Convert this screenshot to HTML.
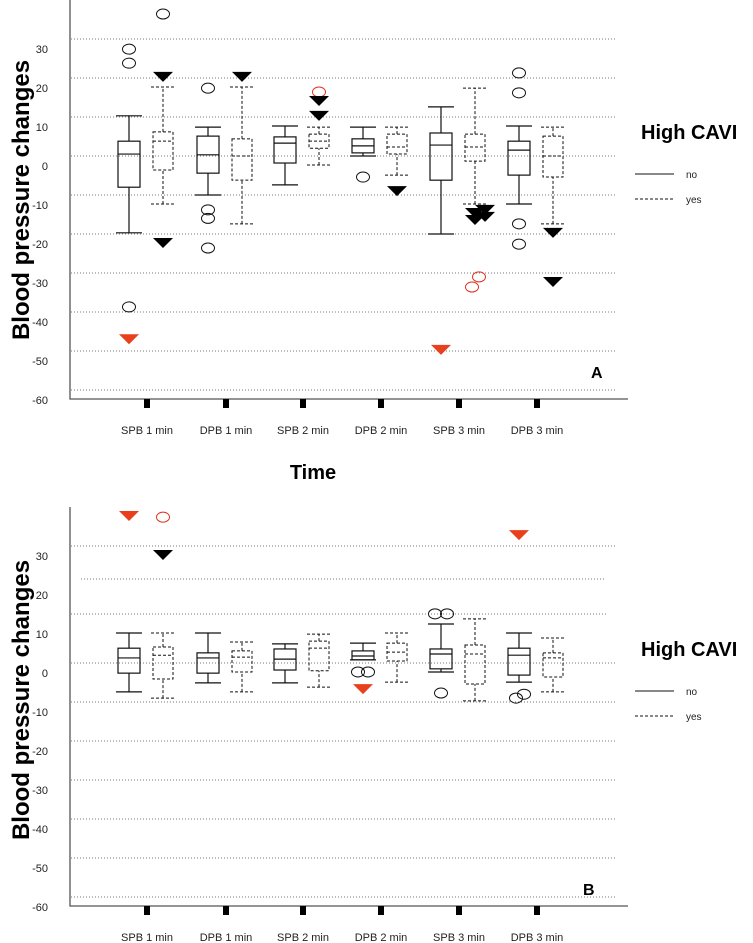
<!DOCTYPE html>
<html><head><meta charset="utf-8"><style>
html,body{margin:0;padding:0;background:#fff;}
svg{display:block;font-family:"Liberation Sans",Arial,sans-serif;}
</style></head><body>
<svg id="chart" width="753" height="943" viewBox="0 0 753 943" xmlns="http://www.w3.org/2000/svg"></svg>
<script>
const categories = ["SPB 1 min","DPB 1 min","SPB 2 min","DPB 2 min","SPB 3 min","DPB 3 min"];
const tickValues = [30,20,10,0,-10,-20,-30,-40,-50,-60];
// Panel A: [whiskerLow, Q1, median, Q3, whiskerHigh]
const boxesA_no  = [[-19.7,-8,0.5,3.8,10.3],[-10,-4.4,0.3,5.1,7.4],[-7.4,-1.8,3.3,4.9,7.7],[0,0.8,2.6,4.4,7.4],[-20,-6.2,2.8,5.9,12.6],[-12.3,-4.9,1.5,3.8,7.7]];
const boxesA_yes = [[-12.3,-3.6,3.8,6.2,17.7],[-17.4,-6.2,0,4.4,17.7],[-2.3,2,3.8,5.6,7.4],[-4.9,0.5,2.3,5.6,7.4],[-12.3,-1.3,2.3,5.6,17.4],[-17.4,-5.4,0,5.1,7.4]];
// outliers: [categoryIndex, group(0 no,1 yes), value, dx]
const circlesA = [[0,0,27.4,0],[0,0,23.8,0],[0,0,-38.7,0],[0,1,36.4,0],[1,0,17.4,0],[1,0,-13.8,0],[1,0,-16,0],[1,0,-23.6,0],[3,0,-5.4,0],[4,2,0,0],[5,0,21.3,0],[5,0,16.2,0],[5,0,-17.4,0],[5,0,-22.6,0]].filter(c=>c[1]!==2);
const redCirclesA = [[2,1,16.4,0],[4,1,-31,4],[4,1,-33.6,-3]];
const trianglesA = [[0,1,20.3,0],[0,1,-22.3,0],[1,1,20.3,0],[2,1,14.1,0],[2,1,10.3,0],[3,1,-9,0],[4,1,-14.6,0],[4,1,-16.4,0],[4,1,-13.8,10],[4,1,-15.6,10],[5,1,-19.7,0],[5,1,-32.3,0]];
const redTrianglesA = [[0,0,-47,0],[4,0,-49.7,0]];
// Panel B
const boxesB_no  = [[-7.4,-2.6,1.3,3.8,7.7],[-5.1,-2.6,1.3,2.6,7.7],[-5.1,-1.8,1,3.6,4.9],[0.8,0.8,1.8,3.1,5.1],[-2.3,-1.5,2.3,3.6,10],[-4.9,-3.1,2,3.8,7.7]];
const boxesB_yes = [[-9,-4.1,2,4.1,7.7],[-7.4,-2.3,1.5,3.1,5.4],[-6.2,-2,3.8,5.6,7.4],[-4.9,0.5,2.8,5.1,7.7],[-9.7,-5.4,2.3,4.6,11.3],[-7.4,-3.6,1.3,2.6,6.4]];
const circlesB = [[3,0,-2.3,-5],[3,0,-2.3,5],[4,0,12.6,-6],[4,0,12.6,6],[4,0,-7.7,0],[5,0,-8,5],[5,0,-9,-3]];
const redCirclesB = [[0,1,37.4,0]];
const trianglesB = [[0,1,27.7,0]];
const redTrianglesB = [[0,0,37.7,0],[3,0,-6.7,0],[5,0,32.8,0]];

const NS="http://www.w3.org/2000/svg";
const svg=document.getElementById('chart');
function mk(tag,attrs,parent){const e=document.createElementNS(NS,tag);for(const k in attrs)e.setAttribute(k,attrs[k]);(parent||svg).appendChild(e);return e;}
const catX = [147,226,303,381,459,537];
function xScale(i,g){return catX[i]+(g===0?-18:16);}

function panel(P){
  const g=mk('g',{});
  
  
  const yS=v=>P.zeroY-3.9*v;
  P.grid.forEach(gy=>{const l=mk('line',{x1:gy[1]||71,x2:gy[2]||616,y1:gy[0],y2:gy[0],stroke:'#777','stroke-width':1,'stroke-dasharray':'1,2'},g);
    });
  const ax=mk('path',{d:`M70,${P.top} V${P.axisY} H628`,stroke:'#555','stroke-width':1.3,fill:'none'},g);
  
  tickValues.forEach(v=>{const t=mk('text',{x:48,y:yS(v)+14,'text-anchor':'end','font-size':11,fill:'#222'},g);t.textContent=v;
    });
  categories.forEach((c,i)=>{const r=mk('rect',{x:catX[i]-3,y:P.axisY,width:6,height:9,fill:'#000'},g);
    
    const t=mk('text',{x:catX[i],y:P.axisY+35,'text-anchor':'middle','font-size':11,fill:'#222'},g);t.textContent=c;
    });
  [[P.no,0],[P.yes,1]].forEach(([arr,grp])=>{
    arr.forEach((b,i)=>{
      const x=xScale(i,grp),w=grp===0?11:10,cap=grp===0?13:12;
      const st={stroke:'#111','stroke-width':grp===0?1.2:1,fill:'none'};
      if(grp===1)st['stroke-dasharray']='3,2';
      const bg=mk('g',{},g);
      
      
      mk('line',Object.assign({x1:x,x2:x,y1:yS(b[0]),y2:yS(b[1])},st),bg);
      mk('line',Object.assign({x1:x,x2:x,y1:yS(b[3]),y2:yS(b[4])},st),bg);
      mk('line',Object.assign({x1:x-cap,x2:x+cap,y1:yS(b[0]),y2:yS(b[0])},st),bg);
      mk('line',Object.assign({x1:x-cap,x2:x+cap,y1:yS(b[4]),y2:yS(b[4])},st),bg);
      mk('rect',Object.assign({x:x-w,y:yS(b[3]),width:2*w,height:yS(b[1])-yS(b[3])},st),bg);
      mk('line',Object.assign({x1:x-w,x2:x+w,y1:yS(b[2]),y2:yS(b[2])},st),bg);
    });
  });
  P.circ.forEach(c=>{const e=mk('ellipse',{cx:xScale(c[0],c[1])+c[3],cy:yS(c[2]),rx:6.5,ry:5,fill:'none',stroke:'#111','stroke-width':1},g);
    });
  P.rcirc.forEach(c=>{const e=mk('ellipse',{cx:xScale(c[0],c[1])+c[3],cy:yS(c[2]),rx:6.5,ry:5,fill:'none',stroke:'#e0301e','stroke-width':1},g);
    });
  const tri=(c,col,nm)=>{const x=xScale(c[0],c[1])+c[3],y=yS(c[2]);
    const e=mk('path',{d:`M${x-10},${y-5} H${x+10} L${x},${y+5} Z`,fill:col},g);
    };
  P.tri.forEach(c=>tri(c,'#000','extreme-triangle'));
  P.rtri.forEach(c=>tri(c,'#e8401c','extreme-triangle-red'));
  const yt=mk('text',{x:0,y:0,transform:`translate(29,${P.titleY}) rotate(-90)`,'text-anchor':'middle','font-size':24,'font-weight':'bold',fill:'#000'},g);
  yt.textContent='Blood pressure changes';
  const lt=mk('text',{x:641,y:P.legY,'font-size':20,'font-weight':'bold',fill:'#000'},g);lt.textContent='High CAVI';
  
  const l1=mk('g',{},g);
  mk('line',{x1:635,x2:674,y1:P.legY+35,y2:P.legY+35,stroke:'#111','stroke-width':1},l1);
  const t1=mk('text',{x:686,y:P.legY+39,'font-size':10,fill:'#222'},l1);t1.textContent='no';
  const l2=mk('g',{},g);
  mk('line',{x1:635,x2:674,y1:P.legY+60,y2:P.legY+60,stroke:'#111','stroke-width':1,'stroke-dasharray':'3,2'},l2);
  const t2=mk('text',{x:686,y:P.legY+64,'font-size':10,fill:'#222'},l2);t2.textContent='yes';
  const pl=mk('text',{x:P.lblX,y:P.lblY,'font-size':16,'font-weight':'bold',fill:'#000'},g);pl.textContent=P.label;
  
}
panel({label:'A',zeroY:156,top:0,axisY:399,grid:[[39],[78],[117],[156],[195],[234],[273],[312],[351],[390]],
  no:boxesA_no,yes:boxesA_yes,circ:circlesA,rcirc:redCirclesA,tri:trianglesA,rtri:redTrianglesA,titleY:200,legY:139,lblX:591,lblY:378});
panel({label:'B',zeroY:663,top:507,axisY:906,grid:[[546],[579,81,606],[614,71,606],[663],[702],[741],[780],[819],[858],[897]],
  no:boxesB_no,yes:boxesB_yes,circ:circlesB,rcirc:redCirclesB,tri:trianglesB,rtri:redTrianglesB,titleY:700,legY:656,lblX:583,lblY:895});
const tm=mk('text',{x:313,y:479,'text-anchor':'middle','font-size':20,'font-weight':'bold',fill:'#000'});tm.textContent='Time';


</script>
</body></html>
